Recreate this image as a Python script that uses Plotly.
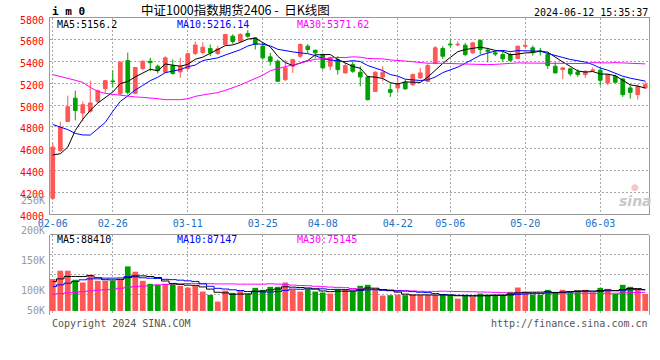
import plotly.graph_objects as go

# ---------------- data ----------------
dates = ["02-06", "02-07", "02-08", "02-19", "02-20", "02-21", "02-22", "02-23", "02-26", "02-27",
         "02-28", "02-29", "03-01", "03-04", "03-05", "03-06", "03-07", "03-08", "03-11", "03-12",
         "03-13", "03-14", "03-15", "03-18", "03-19", "03-20", "03-21", "03-22", "03-25", "03-26",
         "03-27", "03-28", "03-29", "04-01", "04-02", "04-03", "04-08", "04-09", "04-10", "04-11",
         "04-12", "04-15", "04-16", "04-17", "04-18", "04-19", "04-22", "04-23", "04-24", "04-25",
         "04-26", "04-29", "04-30", "05-06", "05-07", "05-08", "05-09", "05-10", "05-13", "05-14",
         "05-15", "05-16", "05-17", "05-20", "05-21", "05-22", "05-23", "05-24", "05-27", "05-28",
         "05-29", "05-30", "05-31", "06-03", "06-04", "06-05", "06-06", "06-07", "06-11", "06-12"]

opens = [4145, 4583, 4850, 5064, 4927, 4943, 5034, 5151, 5222, 5103,
         5409, 5108, 5336, 5403, 5357, 5302, 5362, 5305, 5336, 5475,
         5483, 5519, 5474, 5557, 5633, 5587, 5658, 5618, 5541, 5443,
         5403, 5234, 5357, 5449, 5541, 5504, 5464, 5357, 5418, 5296,
         5372, 5302, 5259, 5126, 5259, 5142, 5158, 5210, 5188, 5250,
         5219, 5382, 5520, 5560, 5552, 5550, 5480, 5594, 5505, 5480,
         5464, 5464, 5428, 5540, 5526, 5498, 5464, 5357, 5326, 5333,
         5305, 5280, 5318, 5320, 5203, 5265, 5240, 5158, 5096, 5158]
highs = [4650, 4847, 5087, 5133, 5034, 5225, 5142, 5230, 5317, 5400,
         5483, 5350, 5410, 5435, 5372, 5449, 5420, 5434, 5480, 5584,
         5578, 5557, 5545, 5655, 5650, 5660, 5688, 5620, 5572, 5480,
         5418, 5418, 5425, 5566, 5560, 5510, 5475, 5445, 5450, 5387,
         5403, 5357, 5265, 5310, 5357, 5197, 5259, 5234, 5290, 5342,
         5380, 5541, 5541, 5600, 5586, 5572, 5580, 5603, 5526, 5500,
         5495, 5480, 5547, 5603, 5547, 5525, 5480, 5394, 5350, 5345,
         5330, 5320, 5345, 5345, 5290, 5280, 5250, 5190, 5190, 5219]
lows = [4130, 4570, 4845, 4859, 4850, 4930, 5020, 5112, 5167, 5095,
        5096, 5100, 5320, 5312, 5290, 5296, 5280, 5250, 5320, 5460,
        5465, 5449, 5460, 5550, 5560, 5575, 5618, 5511, 5418, 5363,
        5215, 5219, 5296, 5434, 5475, 5430, 5326, 5320, 5280, 5290,
        5296, 5172, 5043, 5120, 5219, 5075, 5112, 5142, 5175, 5240,
        5210, 5375, 5425, 5530, 5541, 5449, 5470, 5465, 5393, 5450,
        5403, 5400, 5425, 5517, 5455, 5455, 5333, 5290, 5240, 5265,
        5260, 5250, 5305, 5179, 5182, 5200, 5075, 5059, 5050, 5150]
closes = [4614, 4798, 4985, 4951, 5004, 5020, 5133, 5225, 5216, 5394,
          5117, 5345, 5403, 5390, 5317, 5434, 5290, 5357, 5472, 5552,
          5532, 5480, 5517, 5649, 5584, 5649, 5633, 5557, 5434, 5403,
          5219, 5342, 5418, 5557, 5511, 5480, 5342, 5434, 5326, 5363,
          5311, 5259, 5050, 5302, 5302, 5117, 5197, 5149, 5280, 5296,
          5363, 5526, 5449, 5555, 5558, 5464, 5572, 5511, 5495, 5470,
          5425, 5412, 5541, 5548, 5486, 5492, 5363, 5296, 5342, 5287,
          5280, 5311, 5322, 5228, 5280, 5210, 5096, 5117, 5172, 5188]

volumes = [132100, 166700, 166700, 129200, 117900, 150000, 125000, 125000, 125000, 129200,
           184600, 162500, 125000, 112500, 108300, 112500, 112500, 104200, 97100, 104200,
           80400, 66700, 38800, 84600, 75000, 84600, 70800, 95800, 87500, 100000,
           100000, 117900, 87500, 80400, 90400, 80400, 76300, 72100, 90400, 90400,
           82100, 104200, 108300, 86300, 63800, 65400, 67900, 65400, 67900, 65400,
           65400, 65400, 67900, 65400, 51300, 65400, 58300, 72100, 67900, 65400,
           65400, 79200, 97100, 79200, 67900, 66700, 87500, 79200, 87500, 79200,
           83300, 87500, 76300, 95800, 91700, 70800, 108300, 100000, 91700, 70800]

# moving-average values before the window is full (they depend on earlier, unseen sessions)
ma5_head = [4543, 4553, 4614, 4767]
ma10_head = [4822, 4800, 4775, 4740, 4726, 4725, 4783, 4841, 4942]
ma30_head = [5280, 5265, 5250, 5228, 5209, 5163, 5126, 5108, 5099, 5090,
             5080, 5075, 5071, 5068, 5059, 5050, 5050, 5050, 5059, 5080,
             5093, 5105, 5115, 5135, 5158, 5185, 5215, 5245, 5275]
vma5_head = [122000, 133000, 143000, 143000]
vma10_head = [101000, 108000, 115000, 122000, 129000, 133000, 133000, 136000, 136000]
vma30_head = [69000, 72000, 75000, 77000, 80000, 83000, 86000, 88000, 90000, 94000,
              98000, 101000, 103000, 105000, 108000, 110000, 112000, 113000, 114000, 114000,
              114000, 113000, 112000, 112000, 112000, 111000, 111000, 111000, 111000]

tick_labels = ["02-06", "02-26", "03-11", "03-25", "04-08", "04-22", "05-06", "05-20", "06-03"]
price_ticks = [4000, 4200, 4400, 4600, 4800, 5000, 5200, 5400, 5600, 5800]
vol_axis_labels = ["250K", "200K", "150K", "100K", "50K"]

price_ma_labels = ["MA5:5156.2", "MA10:5216.14", "MA30:5371.62"]
vol_ma_labels = ["MA5:88410", "MA10:87147", "MA30:75145"]

title_code = "i m 0"
title_text = "中证1000指数期货2406 - &nbsp;日K线图"
stamp_text = "2024-06-12 15:35:37"
copyright_text = "Copyright 2024 SINA.COM"
url_text = "http://finance.sina.com.cn"

# ---------------- helpers ----------------
def moving_avg(vals, n, head):
    out = list(head)
    for i in range(len(head), len(vals)):
        out.append(sum(vals[i - n + 1:i + 1]) / n)
    return out

x = list(range(len(dates)))
tick_pos = [dates.index(d) for d in tick_labels]

ma5 = moving_avg(closes, 5, ma5_head)
ma10 = moving_avg(closes, 10, ma10_head)
ma30 = moving_avg(closes, 30, ma30_head)
vma5 = moving_avg(volumes, 5, vma5_head)
vma10 = moving_avg(volumes, 10, vma10_head)
vma30 = moving_avg(volumes, 30, vma30_head)

RED = "#ff5656"
GREEN = "#00a000"
BLUE_MA = "#0000ff"
MAG = "#ff00ff"
GRID = "#a8a8a8"
BORDER = "#999999"
MONO = "DejaVu Sans Mono"

vol_colors = [RED if c >= o else GREEN for o, c in zip(opens, closes)]

W, H = 660, 360
ML, MR, MT, MB = 50, 11, 18, 45
PW = W - ML - MR
PH = H - MT - MB


def px(xp):
    return (xp - ML) / PW


def py(yp):
    return (H - MB - yp) / PH


fig = go.Figure()

fig.add_trace(go.Candlestick(
    x=x, open=opens, high=highs, low=lows, close=closes,
    increasing=dict(line=dict(color=RED, width=1), fillcolor=RED),
    decreasing=dict(line=dict(color=GREEN, width=1), fillcolor=GREEN),
    whiskerwidth=0, xaxis="x", yaxis="y", hoverinfo="skip", showlegend=False))

for series, col in [(ma5, "black"), (ma10, BLUE_MA), (ma30, MAG)]:
    fig.add_trace(go.Scatter(x=x, y=series, mode="lines", line=dict(color=col, width=1),
                             xaxis="x", yaxis="y", hoverinfo="skip", showlegend=False))

fig.add_trace(go.Bar(x=x, y=volumes, marker=dict(color=vol_colors, line=dict(width=0)),
                     width=0.76, xaxis="x2", yaxis="y2", hoverinfo="skip", showlegend=False))

for series, col in [(vma30, MAG), (vma10, BLUE_MA), (vma5, "black")]:
    fig.add_trace(go.Scatter(x=x, y=series, mode="lines", line=dict(color=col, width=1, shape="hvh"),
                             xaxis="x2", yaxis="y2", hoverinfo="skip", showlegend=False))

main_bottom = py(214)
vol_top = py(234.5)
xr = [-0.37, 79.5]

fig.update_layout(
    width=W, height=H,
    margin=dict(l=ML, r=MR, t=MT, b=MB),
    paper_bgcolor="white", plot_bgcolor="white",
    boxgap=0.3,
    font=dict(family=MONO, size=10, color="black"),
    xaxis=dict(domain=[0, 1], anchor="y", range=xr, rangeslider=dict(visible=False),
               tickmode="array", tickvals=tick_pos, ticktext=tick_labels,
               tickfont=dict(family=MONO, size=10, color="#1a72c4"), ticks="",
               ticklabelstandoff=0,
               showgrid=True, gridcolor=GRID, griddash="2px,2px", gridwidth=1,
               showline=True, linecolor=BORDER, linewidth=1, mirror=True, zeroline=False),
    yaxis=dict(domain=[main_bottom, 1], anchor="x", range=[4000, 5800],
               tickmode="array", tickvals=price_ticks,
               tickfont=dict(family=MONO, size=10, color="#ff0000"), ticks="",
               ticklabelstandoff=3, ticklabelshift=2,
               showgrid=True, gridcolor=GRID, griddash="2px,2px", gridwidth=1,
               showline=True, linecolor=BORDER, linewidth=1, mirror=True, zeroline=False),
    xaxis2=dict(domain=[0, 1], anchor="y2", matches="x", range=xr, showticklabels=False, ticks="",
                tickmode="array", tickvals=tick_pos,
                showgrid=True, gridcolor=GRID, griddash="2px,2px", gridwidth=1,
                showline=False, zeroline=False),
    yaxis2=dict(domain=[0, vol_top], anchor="x2", range=[-16667, 316667],
                tickmode="array", tickvals=[66667, 150000, 233333], showticklabels=False, ticks="",
                showgrid=True, gridcolor=GRID, griddash="2px,2px", gridwidth=1,
                showline=True, linecolor=BORDER, linewidth=1, mirror=True, zeroline=False),
    shapes=[dict(type="line", xref="x2 domain", yref="y2 domain", x0=0, x1=1, y0=1, y1=1,
                 line=dict(color=BORDER, width=1))],
)

ann = []


def text(xp, yp, s, color="black", anchor="left", size=10, family=MONO, **kw):
    ann.append(dict(x=px(xp), y=py(yp), xref="paper", yref="paper", text=s, showarrow=False,
                    xanchor=anchor, yanchor="middle",
                    font=dict(family=family, size=size, color=color), **kw))


# header
text(50, 11, "<b>" + title_code + "</b>", size=11)
text(139, 10, title_text, size=12.5, family="Noto Sans CJK SC, " + MONO)
text(650, 12, stamp_text, anchor="right")

# MA legends
for s, xp, col in zip(price_ma_labels, [55, 175, 295], ["black", BLUE_MA, MAG]):
    text(xp, 24, s, color=col)
for s, xp, col in zip(vol_ma_labels, [55, 175, 295], ["black", BLUE_MA, MAG]):
    text(xp, 239, s, color=col)

# volume axis labels (as printed on the reference)
for s, yp in zip(vol_axis_labels, [200, 230, 260, 290, 310]):
    text(47, yp, s, color="#999999", anchor="right")

# footer
text(50, 323, copyright_text, color="#555555")
text(650, 323, url_text, color="#555555", anchor="right")

# sina watermark
text(635, 201, "<b><i>sina</i></b>", color="#c8c8c8", anchor="center", size=14, family="DejaVu Sans")
text(635, 187, "●", color="#f4c6c6", anchor="center", size=9, family="DejaVu Sans")

fig.update_layout(annotations=ann)

fig.write_html("out.html", config={"displayModeBar": False},
               post_script="document.body.style.margin='0px';")
